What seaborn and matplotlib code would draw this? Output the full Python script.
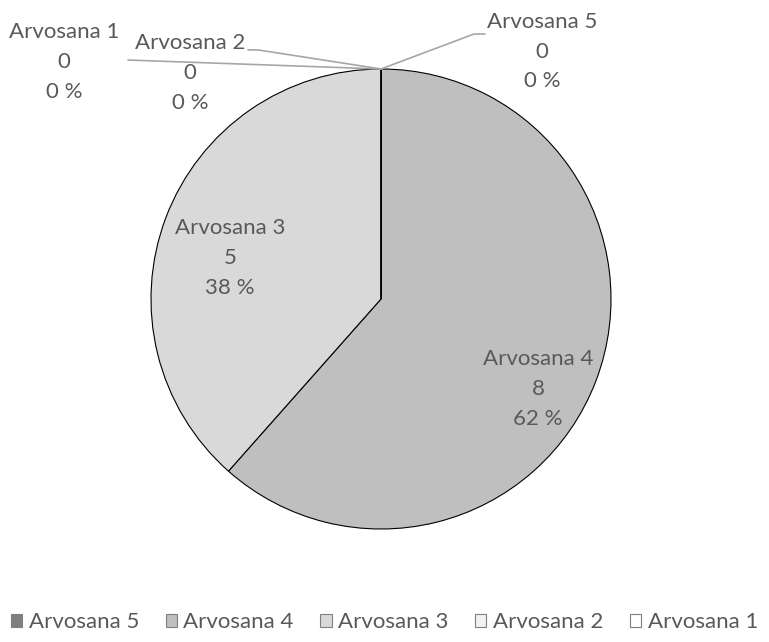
import matplotlib
matplotlib.use("Agg")
import numpy as np
import matplotlib.pyplot as plt
import seaborn as sns
from matplotlib.patches import Patch

# ----------------------------
# data
# ----------------------------
grades = ["Arvosana 5", "Arvosana 4", "Arvosana 3", "Arvosana 2", "Arvosana 1"]
counts = [0, 8, 5, 0, 0]
percents = ["0 %", "62 %", "38 %", "0 %", "0 %"]
colors = ["#7f7f7f", "#bfbfbf", "#d9d9d9", "#f2f2f2", "#ffffff"]

sns.set_theme(style="white")
plt.rcParams["font.family"] = ["Lato", "DejaVu Sans"]
TXT = "#595959"
FS = 16

fig = plt.figure(figsize=(7.69, 6.42), dpi=100)
# axes box = pie bounding box (centre 381,299 px, radius 230 px)
ax = fig.add_axes([(381 - 230) / 769, (642 - 529) / 642, 460 / 769, 460 / 642])

wedges, _ = ax.pie(counts, colors=colors, startangle=90, counterclock=False,
                   wedgeprops=dict(edgecolor="black", linewidth=0.8))
ax.set_xlim(-1, 1)
ax.set_ylim(-1, 1)
ax.set_aspect("auto")
ax.axis("off")

# label centres (data units) and leader line paths
label_pos = {
    "Arvosana 5": (0.700, 1.075),
    "Arvosana 4": (0.683, -0.391),
    "Arvosana 3": (-0.657, 0.178),
    "Arvosana 2": (-0.830, 0.983),
    "Arvosana 1": (-1.378, 1.030),
}
leaders = {
    "Arvosana 5": [(0.404, 1.152), (0.452, 1.152)],
    "Arvosana 2": [(-0.535, 1.083), (-0.578, 1.083)],
    "Arvosana 1": [(-1.10, 1.039)],
}

for w, g, c, p in zip(wedges, grades, counts, percents):
    x, y = label_pos[g]
    ax.text(x, y, f"{g}\n{c}\n{p}", ha="center", va="center", fontsize=FS,
            color=TXT, linespacing=1.6, clip_on=False)
    if g in leaders:
        a = np.deg2rad(w.theta1)
        pts = [(np.cos(a), np.sin(a))] + leaders[g]
        xs, ys = zip(*pts)
        ax.plot(xs, ys, color="#a6a6a6", lw=1.2, clip_on=False)

handles = [Patch(facecolor=col, edgecolor="#7f7f7f", linewidth=0.8) for col in colors]
fig.legend(handles, grades, loc="center", bbox_to_anchor=(0.5, 0.031), ncol=5,
           frameon=False, fontsize=FS, handlelength=0.5, handleheight=0.5,
           handletextpad=0.3, columnspacing=1.2, labelcolor=TXT,
           borderpad=0, borderaxespad=0)

fig.savefig("out.png", dpi=100)
